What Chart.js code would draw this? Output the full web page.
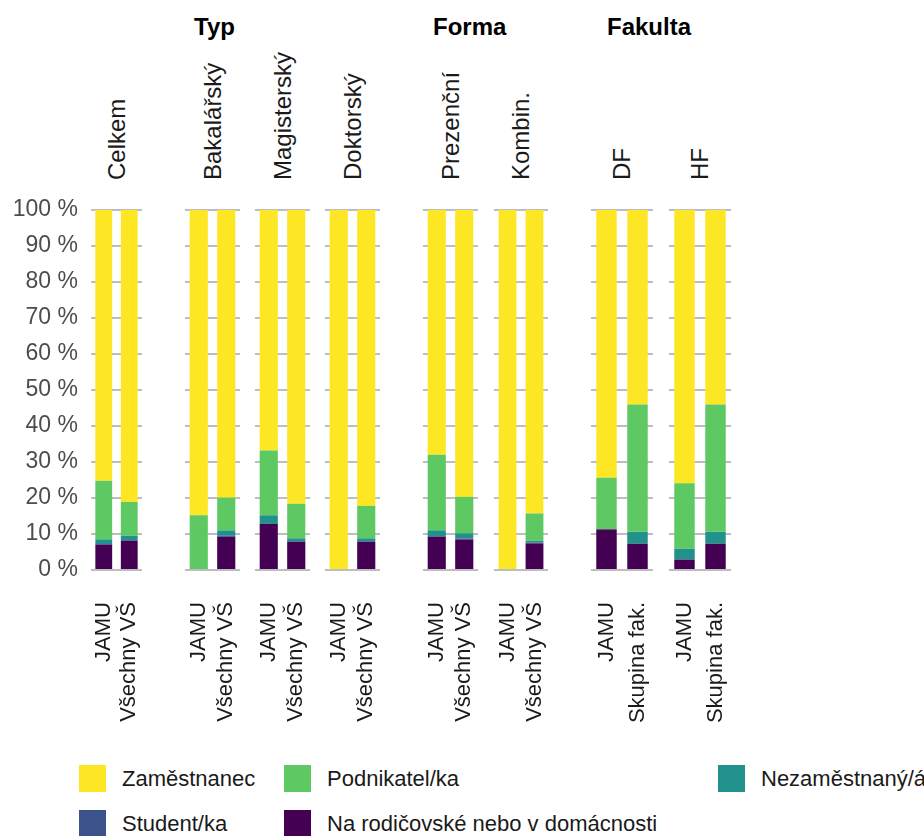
<!DOCTYPE html>
<html>
<head>
<meta charset="utf-8">
<script src="https://cdn.jsdelivr.net/npm/chart.js@4/dist/chart.umd.min.js"></script>
<style>
  body { margin: 0; background: #fff; font-family: "Liberation Sans", Arial, sans-serif; }
  #page { position: relative; width: 924px; height: 836px; overflow: hidden; }
  .panel { position: absolute; top: 194px; height: 546px; }
  .head { position: absolute; top: 13px; font-weight: bold; font-size: 24px; color: #000; }
  .strip { position: absolute; top: 180px; font-size: 24px; line-height: 28px; color: #1a1a1a;
           transform: rotate(-90deg); transform-origin: 0 0; white-space: nowrap; }
  .leg { position: absolute; font-size: 22px; color: #1a1a1a; white-space: nowrap; }
  .leg span { position: absolute; left: 0; top: 0; width: 27px; height: 27px; }
  .leg b { position: absolute; left: 43px; top: 1px; font-weight: normal; }
</style>
</head>
<body>
<div id="page"></div>
<script>
// facets (panels) and the two bars in each
const facets = ["Celkem", "Bakalářský", "Magisterský", "Doktorský", "Prezenční", "Kombin.", "DF", "HF"];
const barLabels = [
  ["JAMU", "Všechny VŠ"], ["JAMU", "Všechny VŠ"], ["JAMU", "Všechny VŠ"], ["JAMU", "Všechny VŠ"],
  ["JAMU", "Všechny VŠ"], ["JAMU", "Všechny VŠ"], ["JAMU", "Skupina fak."], ["JAMU", "Skupina fak."]
];
const headers = ["Typ", "Forma", "Fakulta"];

// series values in %, 16 bars in facet order
const rodicovska  = [7.1, 8.1, 0, 9.3, 12.8, 7.8, 0, 7.8, 9.3, 8.5, 0, 7.4, 11.3, 7.3, 2.9, 7.3];
const student     = [0, 0.2, 0, 0.2, 0, 0.2, 0, 0.2, 0, 0.2, 0, 0.2, 0, 0, 0, 0];
const nezamestnan = [1.4, 1.2, 0, 1.5, 2.4, 0.8, 0, 0.8, 1.7, 1.5, 0, 0.5, 0, 3.3, 3.0, 3.3];
const podnikatel  = [16.3, 9.4, 15.2, 9.1, 18.0, 9.6, 0, 9.0, 21.0, 10.1, 0, 7.6, 14.3, 35.4, 18.2, 35.4];
const zamestnanec = [75.2, 81.1, 84.8, 79.9, 66.8, 81.6, 100, 82.2, 68.0, 79.7, 100, 84.3, 74.4, 54.0, 75.9, 54.0];

const yTicks = [0, 10, 20, 30, 40, 50, 60, 70, 80, 90, 100];

// stacking order bottom -> top
const series = [
  { name: "Na rodičovské nebo v domácnosti", data: rodicovska, color: "#440154" },
  { name: "Student/ka", data: student, color: "#3B528B" },
  { name: "Nezaměstnaný/á", data: nezamestnan, color: "#21918C" },
  { name: "Podnikatel/ka", data: podnikatel, color: "#5EC962" },
  { name: "Zaměstnanec", data: zamestnanec, color: "#FDE725" }
];

// layout of the panels (left edge of plot area, width)
const panelX = [91, 185, 255, 325, 423, 494, 591, 669];
const panelW = [51, 55, 55, 55, 55, 54, 62, 62];
const headX = [194, 433, 607];

const page = document.getElementById("page");
const font = "'Liberation Sans', Arial, sans-serif";

for (let i = 0; i < facets.length; i++) {
  const first = (i == 0);
  const box = document.createElement("div");
  box.className = "panel";
  const left = first ? 0 : panelX[i];
  const yWidth = first ? panelX[i] : 0;
  box.style.left = left + "px";
  box.style.width = (panelW[i] + yWidth) + "px";
  const cv = document.createElement("canvas");
  box.appendChild(cv);
  page.appendChild(box);

  const datasets = series.map(function (s) {
    return {
      label: s.name,
      data: s.data.slice(i * 2, i * 2 + 2),
      backgroundColor: s.color,
      borderWidth: 0,
      barPercentage: 0.66,
      categoryPercentage: 1.0
    };
  });

  new Chart(cv, {
    type: "bar",
    data: { labels: barLabels[i], datasets: datasets },
    options: {
      responsive: true,
      maintainAspectRatio: false,
      animation: false,
      layout: { padding: { top: 16, left: 0, right: 0, bottom: 0 } },
      plugins: { legend: { display: false }, tooltip: { enabled: false } },
      scales: {
        x: {
          stacked: true,
          grid: { display: false },
          border: { display: false },
          ticks: {
            autoSkip: false,
            minRotation: 90, maxRotation: 90, padding: 24,
            color: "#1a1a1a", font: { family: font, size: 22 }
          },
          afterFit: function (scale) {
            scale.height = 170;
            scale.paddingLeft = 0;
            scale.paddingRight = 0;
          }
        },
        y: {
          stacked: true,
          min: 0, max: 100,
          afterBuildTicks: function (scale) { scale.ticks = yTicks.map(function (v) { return { value: v }; }); },
          grid: { color: "#BEBEBE", lineWidth: 2, drawTicks: false },
          border: { display: false },
          ticks: {
            padding: 13,
            color: first ? "#4D4D4D" : "rgba(0,0,0,0)",
            font: { family: font, size: 23 },
            callback: function (v) { return v + " %"; }
          },
          afterFit: function (scale) {
            scale.width = yWidth;
            scale.paddingTop = 0;
            scale.paddingBottom = 0;
          }
        }
      }
    }
  });

  const st = document.createElement("div");
  st.className = "strip";
  st.textContent = facets[i];
  st.style.left = (panelX[i] + panelW[i] / 2 - 14) + "px";
  page.appendChild(st);
}

for (let h = 0; h < headers.length; h++) {
  const d = document.createElement("div");
  d.className = "head";
  d.style.left = headX[h] + "px";
  d.textContent = headers[h];
  page.appendChild(d);
}

// legend, in the order of the original
const legOrder = [4, 3, 2, 1, 0];
const legX = [79, 284, 718, 79, 284];
const legY = [765, 765, 765, 810, 810];
for (let k = 0; k < legOrder.length; k++) {
  const s = series[legOrder[k]];
  const item = document.createElement("div");
  item.className = "leg";
  item.style.left = legX[k] + "px";
  item.style.top = legY[k] + "px";
  item.innerHTML = '<span style="background:' + s.color + '"></span><b></b>';
  item.querySelector("b").textContent = s.name;
  page.appendChild(item);
}
</script>
</body>
</html>
